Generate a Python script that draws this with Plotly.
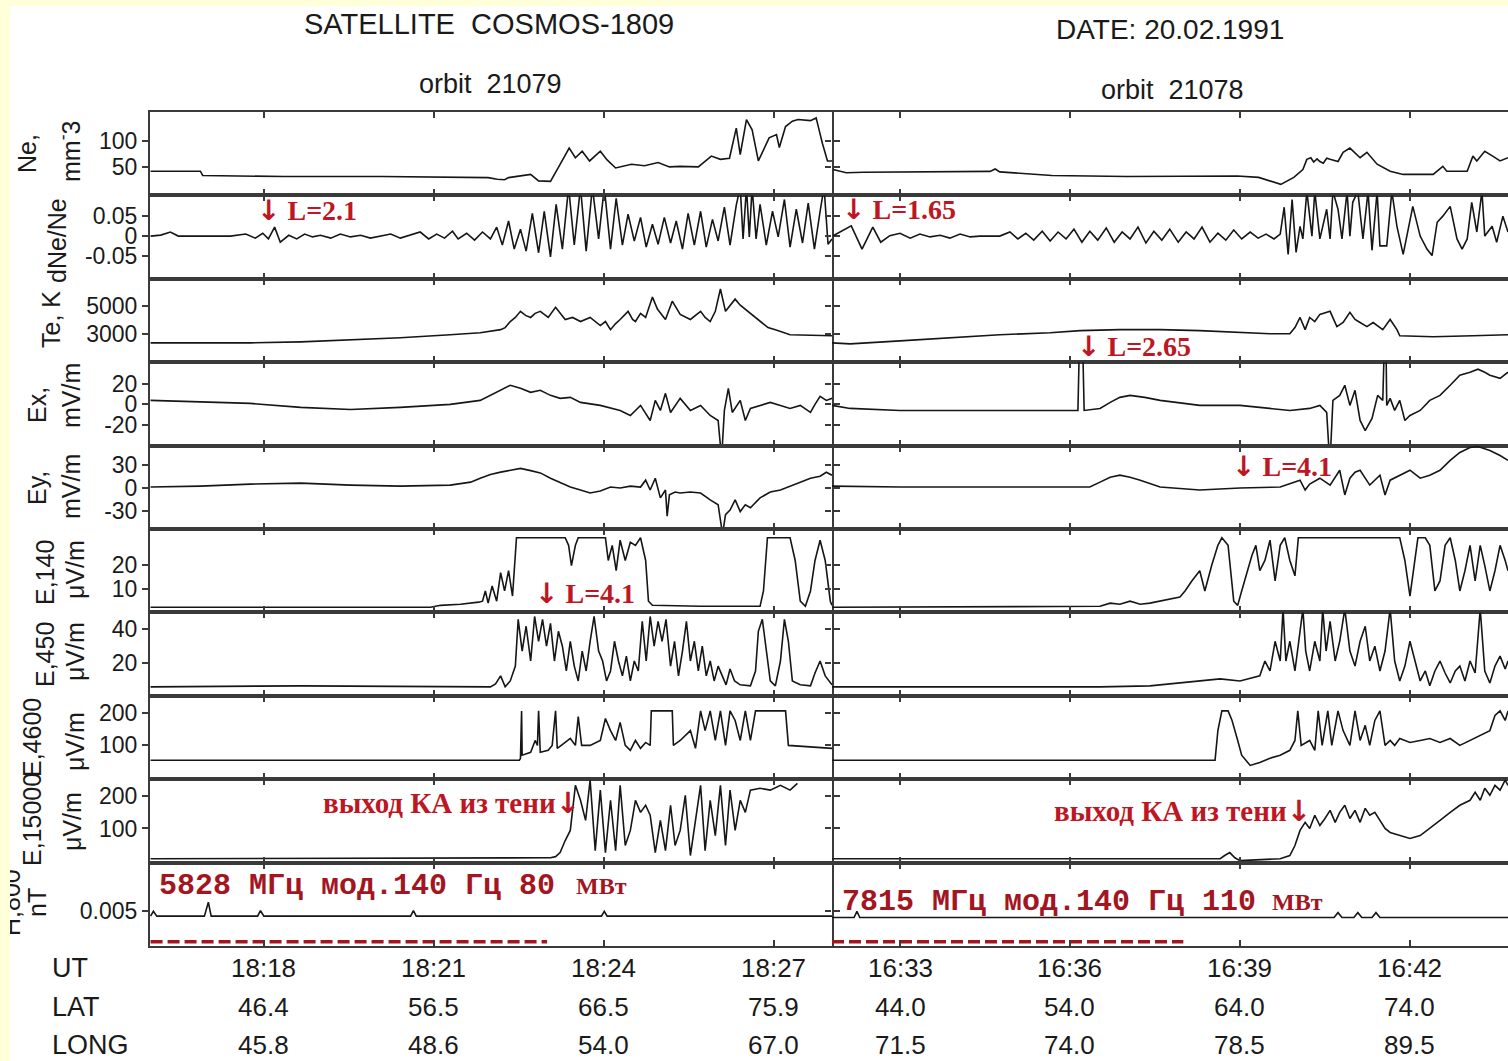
import plotly.graph_objects as go
from plotly.subplots import make_subplots

# ---------------- time axes (minutes past the hour) ----------------
left_range = [15.99, 28.03]      # 18:16 .. 18:28, orbit 21079
right_range = [31.8, 43.73]      # 16:31.8 .. 16:43.7, orbit 21078
ticks_left = [18, 21, 24, 27]
ticks_right = [33, 36, 39, 42]

ut_left = ["18:18", "18:21", "18:24", "18:27"]
lat_left = ["46.4", "56.5", "66.5", "75.9"]
long_left = ["45.8", "48.6", "54.0", "67.0"]
ut_right = ["16:33", "16:36", "16:39", "16:42"]
lat_right = ["44.0", "54.0", "64.0", "74.0"]
long_right = ["71.5", "74.0", "78.5", "89.5"]

# heater-on intervals (red dashed bars)
heater_left = [16.0, 23.0]
heater_right = [31.8, 38.0]

# ---------------- measured series: (minute, value) ----------------
ne_l = [(16.00, 43), (16.88, 43), (16.92, 35), (17.5, 34), (18.35, 33), (20.08, 33), (20.71, 32),
        (21.96, 31), (22.12, 28), (22.25, 27), (22.32, 31), (22.55, 35), (22.71, 37), (22.85, 25),
        (23.06, 24), (23.20, 50), (23.39, 86), (23.50, 68), (23.62, 80), (23.75, 62), (23.94, 80),
        (24.06, 64), (24.21, 49), (24.49, 56), (24.72, 53), (24.96, 59), (25.16, 51), (25.35, 52),
        (25.67, 51), (25.90, 71), (26.06, 65), (26.22, 67), (26.34, 123), (26.41, 74), (26.52, 139),
        (26.62, 120), (26.73, 62), (26.92, 105), (27.05, 111), (27.10, 87), (27.21, 126), (27.33, 136),
        (27.43, 139), (27.65, 137), (27.75, 142), (27.86, 95), (27.95, 62), (28.03, 62)]
ne_r = [(31.82, 46), (32.05, 40), (32.36, 41), (34.59, 42.6), (34.68, 47), (34.76, 41.7), (35.68, 35),
        (37.0, 33), (38.95, 34), (39.33, 31.5), (39.72, 18.5), (39.95, 31.5), (40.11, 46), (40.18, 65),
        (40.25, 68), (40.30, 60), (40.36, 66), (40.41, 61), (40.47, 58), (40.53, 67), (40.59, 65),
        (40.73, 61), (40.82, 78), (40.94, 86), (41.12, 68), (41.24, 78), (41.42, 56), (41.65, 43),
        (41.88, 37), (42.41, 37), (42.58, 52), (42.65, 43), (43.01, 43), (43.11, 71), (43.18, 62),
        (43.32, 80), (43.46, 71), (43.59, 62), (43.73, 68)]

dne_l = [(16.00, 0), (16.18, 0.0024), (16.35, 0.0098), (16.49, 0), (17.41, 0), (17.68, 0.005),
         (17.85, -0.005), (17.98, 0.007), (18.08, -0.007), (18.19, 0.022), (18.29, -0.015),
         (18.44, 0.002), (18.58, -0.007), (18.72, 0.005), (18.86, -0.002), (19.00, 0.002),
         (19.18, -0.005), (19.35, 0.005), (19.53, -0.002), (19.71, 0.002), (19.88, -0.005),
         (20.06, 0), (20.24, 0.005), (20.41, -0.005), (20.59, 0.002), (20.76, 0.01), (20.91, -0.007),
         (21.05, 0.005), (21.19, -0.005), (21.33, 0.012), (21.43, -0.007), (21.58, 0.007),
         (21.72, -0.01), (21.86, 0.01), (22.00, -0.007), (22.11, 0.022), (22.21, -0.022),
         (22.32, 0.037), (22.42, -0.032), (22.53, 0.017), (22.63, -0.037), (22.74, 0.056),
         (22.85, -0.041), (22.95, 0.061), (23.06, -0.051), (23.16, 0.078), (23.27, -0.032),
         (23.38, 0.12), (23.48, -0.022), (23.59, 0.12), (23.69, -0.037), (23.80, 0.12),
         (23.91, -0.007), (24.01, 0.12), (24.12, -0.032), (24.22, 0.093), (24.33, -0.022),
         (24.43, 0.054), (24.54, -0.012), (24.65, 0.046), (24.75, -0.027), (24.86, 0.029),
         (24.96, -0.02), (25.07, 0.046), (25.18, -0.017), (25.28, 0.037), (25.39, -0.032),
         (25.49, 0.056), (25.60, -0.022), (25.71, 0.061), (25.81, -0.027), (25.92, 0.041),
         (26.02, -0.012), (26.13, 0.071), (26.23, -0.022), (26.34, 0.076), (26.41, 0.12),
         (26.46, -0.007), (26.52, 0.12), (26.57, -0.002), (26.62, 0.12), (26.69, -0.007),
         (26.76, 0.078), (26.87, -0.022), (26.98, 0.061), (27.08, -0.002), (27.19, 0.09),
         (27.29, -0.027), (27.40, 0.066), (27.51, -0.017), (27.61, 0.081), (27.72, -0.032),
         (27.82, 0.061), (27.89, 0.12), (27.96, -0.02), (28.03, -0.007)]
dne_r = [(31.82, 0.001), (32.14, 0.025), (32.33, -0.032), (32.52, 0.022), (32.66, -0.015),
         (32.82, 0.001), (33.00, 0.007), (33.18, -0.005), (33.35, 0.005), (33.53, -0.002),
         (33.71, 0.002), (33.88, -0.005), (34.06, 0.005), (34.24, -0.002), (34.41, 0), (34.76, 0),
         (34.94, 0.01), (35.08, -0.007), (35.22, 0.007), (35.36, -0.01), (35.51, 0.012),
         (35.65, -0.012), (35.79, 0.01), (35.93, -0.007), (36.07, 0.017), (36.21, -0.015),
         (36.35, 0.012), (36.49, -0.01), (36.64, 0.02), (36.78, -0.015), (36.92, 0.01),
         (37.06, -0.007), (37.20, 0.022), (37.34, -0.017), (37.48, 0.012), (37.62, -0.01),
         (37.76, 0.017), (37.91, -0.015), (38.05, 0.01), (38.19, -0.007), (38.33, 0.022),
         (38.47, -0.015), (38.61, 0.007), (38.75, -0.01), (38.89, 0.015), (39.03, -0.007),
         (39.18, 0.01), (39.32, -0.005), (39.46, 0.005), (39.60, -0.007), (39.71, 0.005),
         (39.78, 0.071), (39.85, -0.045), (39.92, 0.09), (39.99, -0.04), (40.06, 0.024),
         (40.11, -0.007), (40.18, 0.11), (40.27, 0), (40.32, 0.11), (40.41, -0.007), (40.53, 0.066),
         (40.59, -0.007), (40.64, 0.11), (40.73, 0.066), (40.80, -0.007), (40.89, 0.11), (40.94, 0),
         (40.99, 0.083), (41.08, 0.11), (41.17, -0.007), (41.26, 0.11), (41.33, -0.035),
         (41.42, 0.11), (41.47, -0.024), (41.59, -0.024), (41.68, 0.11), (41.77, 0.024),
         (41.88, -0.045), (42.05, 0.073), (42.18, 0), (42.30, -0.032), (42.39, -0.048),
         (42.48, 0.034), (42.58, 0.049), (42.71, 0.073), (42.83, -0.007), (42.92, -0.032),
         (43.01, -0.007), (43.09, 0.083), (43.18, 0.01), (43.27, 0.11), (43.32, 0), (43.45, 0.024),
         (43.53, -0.015), (43.64, 0.049), (43.73, 0.01)]

te_l = [(16.00, 2333), (17.76, 2333), (18.65, 2407), (19.53, 2556), (20.41, 2704), (21.29, 2926),
        (21.82, 3074), (22.18, 3296), (22.26, 3444), (22.35, 3889), (22.44, 4185), (22.53, 4630),
        (22.62, 4333), (22.71, 4185), (22.79, 4481), (22.88, 4630), (23.02, 4185), (23.15, 4926),
        (23.23, 4481), (23.32, 4037), (23.45, 4185), (23.59, 3889), (23.76, 4185), (23.94, 3593),
        (24.03, 3889), (24.12, 3296), (24.21, 3741), (24.29, 4037), (24.43, 4630), (24.51, 4037),
        (24.56, 3889), (24.65, 4481), (24.74, 4185), (24.86, 5667), (24.95, 4778), (25.09, 4037),
        (25.21, 5370), (25.35, 4407), (25.53, 4037), (25.71, 4630), (25.79, 4185), (25.88, 3889),
        (25.97, 4630), (26.06, 6259), (26.15, 4630), (26.23, 5074), (26.32, 5519), (26.41, 5074),
        (26.50, 4778), (26.62, 4333), (26.76, 3889), (26.90, 3444), (27.03, 3296), (27.29, 2926),
        (28.03, 2852)]
te_r = [(31.80, 2333), (32.12, 2259), (33.00, 2481), (33.88, 2704), (34.76, 2926), (35.65, 3074),
        (36.18, 3222), (36.88, 3296), (37.59, 3296), (38.29, 3222), (39.00, 3074), (39.53, 3000),
        (39.88, 3000), (39.97, 3444), (40.06, 4185), (40.15, 3296), (40.23, 4185), (40.32, 3889),
        (40.41, 4407), (40.59, 4630), (40.71, 3519), (40.82, 3815), (40.94, 4556), (41.03, 4037),
        (41.12, 3815), (41.24, 3519), (41.35, 3815), (41.52, 3296), (41.65, 4037), (41.77, 3296),
        (41.82, 2852), (42.41, 2778), (43.11, 2852), (43.73, 2926)]

ex_l = [(16.00, 4), (17.76, 1), (18.65, -3), (19.53, -5), (20.41, -3), (21.29, 0), (21.82, 4),
        (22.00, 9), (22.18, 14), (22.35, 19), (22.53, 16), (22.71, 12), (22.88, 14), (23.06, 9),
        (23.23, 6), (23.41, 7), (23.59, 2), (23.94, -1), (24.29, -6), (24.47, -11), (24.65, -1),
        (24.82, -16), (24.91, 4), (25.00, -6), (25.09, 11), (25.18, -8), (25.35, 6), (25.53, -6),
        (25.71, -1), (25.88, -11), (26.02, -16), (26.06, -41), (26.09, -45), (26.13, -6),
        (26.20, 16), (26.27, -8), (26.41, 4), (26.50, -16), (26.59, -4), (26.76, -1), (26.94, 2),
        (27.12, -1), (27.29, -4), (27.47, -1), (27.65, -8), (27.73, 0), (27.82, 8), (27.93, 4),
        (28.03, 6)]
ex_r = [(31.80, -1), (32.12, -4), (33.00, -6), (34.76, -6), (36.14, -6), (36.16, 45), (36.23, 45),
        (36.25, -6), (36.53, -4), (36.71, 2), (36.88, 7), (37.06, 9), (37.32, 7), (37.59, 4),
        (38.29, -1), (39.00, -1), (39.53, -4), (39.88, -6), (40.23, -4), (40.41, -1), (40.53, -8),
        (40.57, -45), (40.60, -45), (40.64, 4), (40.76, 9), (40.85, 19), (40.94, -1), (41.03, 14),
        (41.12, -16), (41.21, -26), (41.33, -14), (41.43, 9), (41.52, 4), (41.54, 45), (41.58, 45),
        (41.59, -1), (41.65, 6), (41.73, -6), (41.82, 4), (41.91, -16), (42.00, -11), (42.18, -6),
        (42.35, 4), (42.53, 9), (42.71, 19), (42.88, 29), (43.06, 32), (43.20, 35), (43.32, 32),
        (43.41, 29), (43.59, 26), (43.73, 32)]

ey_l = [(16.00, 1.3), (16.88, 2.6), (17.76, 5.2), (18.65, 6.5), (19.53, 3.9), (20.41, 2.6),
        (21.29, 3.9), (21.65, 7.8), (21.82, 13), (22.00, 18), (22.18, 21), (22.35, 23), (22.53, 26),
        (22.71, 23), (22.88, 20), (23.06, 13), (23.23, 7.8), (23.41, 1.3), (23.59, -2.6),
        (23.76, -6.5), (23.94, -3.9), (24.12, 1.3), (24.29, 0), (24.47, 2.6), (24.65, 1.3),
        (24.74, 10.4), (24.82, -2.6), (24.91, 13), (25.00, -13), (25.09, -2.6), (25.12, -37),
        (25.16, -9), (25.26, -5.2), (25.35, -6.5), (25.53, -5.2), (25.71, -6.5), (25.88, -15.6),
        (26.02, -22), (26.08, -52), (26.11, -55), (26.15, -35), (26.23, -29), (26.32, -15.6),
        (26.41, -31), (26.50, -22), (26.59, -26), (26.76, -13), (26.94, -5.2), (27.12, -2.6),
        (27.29, 2.6), (27.47, 7.8), (27.65, 13), (27.82, 15.6), (27.93, 20.9), (28.03, 16.9)]
ey_r = [(31.80, 2.6), (33.00, 1.3), (34.76, 1.3), (36.35, 1.3), (36.53, 7.8), (36.71, 14.3),
        (36.88, 17), (37.06, 14.3), (37.24, 10.4), (37.59, 1.3), (38.29, -2.6), (39.00, 0),
        (39.71, 1.3), (40.06, 10.4), (40.15, -2.6), (40.23, 5.2), (40.41, 13), (40.59, 3.9),
        (40.76, 23.5), (40.85, -9.1), (40.94, 13), (41.03, 20.9), (41.12, 23.5), (41.29, 3.9),
        (41.47, 17), (41.56, -9.1), (41.65, 10.4), (41.82, 17), (42.00, 23.5), (42.18, 13),
        (42.35, 17), (42.53, 23.5), (42.71, 36.5), (42.88, 47), (43.06, 53.5), (43.20, 54.8),
        (43.32, 52), (43.41, 49.6), (43.59, 43), (43.73, 36.5)]

e140_l = [(16.00, 2.5), (20.94, 2.5), (21.12, 3.3), (21.47, 3.75), (21.79, 4.6), (21.86, 5),
          (21.91, 9.2), (21.96, 4.2), (22.03, 11.25), (22.11, 5), (22.18, 16.7), (22.25, 9.2),
          (22.32, 17.5), (22.39, 7.1), (22.46, 31), (23.32, 31), (23.38, 27.9), (23.43, 19.6),
          (23.50, 27.9), (23.55, 31), (24.03, 31), (24.08, 21.7), (24.15, 27.9), (24.22, 17.5),
          (24.29, 30), (24.38, 21.7), (24.47, 29.2), (24.56, 27.9), (24.65, 31), (24.74, 21.7),
          (24.79, 5), (24.86, 3.3), (25.71, 2.9), (26.76, 2.9), (26.82, 9.2), (26.89, 31),
          (27.29, 31), (27.38, 21.7), (27.47, 5), (27.56, 2.9), (27.65, 9.2), (27.73, 21.7),
          (27.82, 30), (27.91, 21.7), (28.00, 5), (28.03, 3.3)]
e140_r = [(31.80, 2.5), (36.53, 2.9), (36.71, 4.2), (36.88, 3.75), (37.06, 5), (37.24, 3.75),
          (37.41, 4.2), (37.59, 5), (37.76, 5.8), (37.94, 6.7), (38.03, 9.2), (38.15, 13.3),
          (38.29, 17.5), (38.38, 9.2), (38.50, 19.6), (38.61, 27.9), (38.68, 31), (38.79, 27.9),
          (38.89, 5), (38.96, 3.3), (39.03, 9.2), (39.14, 17.5), (39.21, 23.75), (39.28, 27.9),
          (39.35, 17.5), (39.44, 21.7), (39.53, 30), (39.62, 13.3), (39.71, 27.9), (39.79, 31),
          (39.88, 21.7), (39.97, 15.4), (40.03, 31), (41.82, 31), (41.91, 21.7), (42.00, 7.1),
          (42.09, 21.7), (42.14, 31), (42.27, 31), (42.35, 27.9), (42.44, 9.2), (42.53, 13.3),
          (42.62, 27.9), (42.71, 31), (42.80, 21.7), (42.88, 9.2), (42.97, 17.5), (43.06, 27.9),
          (43.15, 13.3), (43.24, 27.9), (43.32, 19.6), (43.41, 9.2), (43.50, 17.5), (43.59, 27.9),
          (43.68, 21.7), (43.73, 17.5)]

e450_l = [(16.00, 5.9), (18.65, 6.5), (22.00, 5.9), (22.09, 7.6), (22.18, 12.4), (22.26, 5.9),
          (22.35, 9.4), (22.44, 18.2), (22.49, 45.9), (22.56, 27.1), (22.63, 41.8), (22.71, 21.2),
          (22.78, 47.6), (22.85, 32.9), (22.92, 45.9), (22.99, 30), (23.06, 43.5), (23.13, 21.2),
          (23.20, 38.8), (23.27, 30), (23.34, 15.3), (23.41, 32.9), (23.48, 18.2), (23.55, 9.4),
          (23.62, 27.1), (23.69, 15.3), (23.76, 32.9), (23.83, 47.6), (23.91, 27.1), (23.98, 21.2),
          (24.05, 9.4), (24.12, 15.3), (24.19, 32.9), (24.26, 21.2), (24.33, 12.4), (24.40, 24.1),
          (24.47, 9.4), (24.54, 21.2), (24.61, 15.3), (24.68, 44.7), (24.75, 21.2), (24.82, 47.6),
          (24.89, 30), (24.96, 44.7), (25.03, 32.9), (25.10, 45.9), (25.18, 18.2), (25.25, 32.9),
          (25.32, 12.4), (25.39, 27.1), (25.46, 44.7), (25.53, 21.2), (25.60, 32.9), (25.67, 15.3),
          (25.74, 30), (25.81, 12.4), (25.88, 21.2), (25.95, 9.4), (26.02, 18.2), (26.09, 12.4),
          (26.16, 7.1), (26.23, 16.5), (26.31, 9.4), (26.41, 7.1), (26.59, 6.5), (26.68, 15.3),
          (26.73, 38.8), (26.80, 45.9), (26.87, 27.1), (26.94, 9.4), (27.03, 6.5), (27.12, 21.2),
          (27.19, 45.9), (27.26, 32.9), (27.33, 9.4), (27.47, 7.1), (27.65, 6.5), (27.73, 14.1),
          (27.82, 21.2), (27.91, 12.4), (28.03, 7.1)]
e450_r = [(31.80, 5.9), (36.53, 5.9), (37.41, 6.5), (37.94, 8.2), (38.29, 9.4), (38.65, 10.6),
          (39.00, 9.4), (39.35, 12.4), (39.44, 21.2), (39.53, 15.3), (39.62, 32.9), (39.71, 21.2),
          (39.76, 52), (39.81, 21.2), (39.88, 32.9), (39.97, 15.3), (40.06, 38.8), (40.11, 52),
          (40.16, 27.1), (40.23, 15.3), (40.32, 32.9), (40.41, 21.2), (40.46, 52), (40.52, 27.1),
          (40.59, 44.7), (40.68, 21.2), (40.76, 32.9), (40.85, 52), (40.94, 27.1), (41.03, 18.2),
          (41.12, 32.9), (41.21, 41.8), (41.29, 21.2), (41.38, 30), (41.47, 15.3), (41.56, 27.1),
          (41.65, 52), (41.73, 21.2), (41.82, 9.4), (41.91, 18.2), (42.00, 32.9), (42.09, 21.2),
          (42.18, 9.4), (42.27, 15.3), (42.35, 6.5), (42.44, 15.3), (42.53, 21.2), (42.62, 14.1),
          (42.71, 8.2), (42.80, 15.3), (42.88, 18.2), (42.97, 9.4), (43.06, 21.2), (43.15, 14.1),
          (43.24, 52), (43.32, 15.3), (43.41, 8.2), (43.50, 18.2), (43.59, 24.1), (43.68, 16.5),
          (43.73, 21.2)]

e4600_l = [(16.00, 54.5), (22.51, 54.5), (22.53, 60), (22.55, 205), (22.56, 70), (22.71, 79),
           (22.79, 115), (22.83, 100), (22.85, 205), (22.88, 79), (23.02, 85), (23.09, 100),
           (23.15, 205), (23.18, 91), (23.32, 109), (23.41, 121), (23.50, 100), (23.55, 188),
           (23.61, 100), (23.76, 100), (23.94, 115), (24.03, 182), (24.12, 145), (24.21, 115),
           (24.29, 170), (24.38, 100), (24.47, 85), (24.56, 115), (24.65, 91), (24.74, 109),
           (24.82, 100), (24.84, 205), (25.21, 205), (25.23, 100), (25.35, 115), (25.53, 145),
           (25.62, 91), (25.71, 205), (25.79, 145), (25.88, 205), (25.97, 115), (26.06, 205),
           (26.15, 100), (26.23, 205), (26.32, 176), (26.41, 115), (26.50, 205), (26.59, 115),
           (26.68, 205), (27.21, 205), (27.26, 100), (28.03, 91)]
e4600_r = [(31.80, 54.5), (38.56, 54.5), (38.61, 145), (38.68, 205), (38.79, 205), (38.86, 176),
           (38.96, 115), (39.03, 70), (39.18, 39), (39.35, 48), (39.53, 61), (39.71, 70),
           (39.88, 85), (39.97, 115), (40.02, 205), (40.08, 100), (40.23, 115), (40.32, 85),
           (40.38, 205), (40.45, 100), (40.55, 205), (40.62, 100), (40.73, 205), (40.82, 145),
           (40.94, 100), (41.03, 205), (41.12, 115), (41.21, 161), (41.29, 100), (41.38, 176),
           (41.47, 205), (41.56, 100), (41.65, 115), (41.73, 100), (41.82, 121), (42.00, 109),
           (42.18, 115), (42.35, 121), (42.53, 109), (42.71, 121), (42.88, 100), (43.06, 115),
           (43.24, 130), (43.41, 145), (43.50, 191), (43.59, 205), (43.68, 176), (43.73, 205)]

e15000_l = [(16.00, 6), (23.06, 9), (23.15, 12.5), (23.23, 25), (23.32, 62.5), (23.41, 94),
            (23.50, 234), (23.59, 187.5), (23.68, 125), (23.76, 250), (23.85, 31), (23.94, 219),
            (24.03, 25), (24.12, 187.5), (24.21, 31), (24.29, 234), (24.38, 47), (24.47, 94),
            (24.56, 187.5), (24.65, 150), (24.74, 172), (24.82, 141), (24.91, 25), (25.00, 125),
            (25.09, 31), (25.18, 172), (25.26, 47), (25.35, 94), (25.44, 203), (25.53, 16),
            (25.62, 125), (25.71, 234), (25.79, 31), (25.88, 187.5), (25.97, 78), (26.06, 234),
            (26.15, 47), (26.23, 219), (26.32, 94), (26.41, 187.5), (26.50, 150), (26.59, 219),
            (26.76, 225), (26.94, 219), (27.12, 234), (27.29, 219), (27.42, 240)]
e15000_r = [(31.80, 6), (38.65, 6), (38.73, 16), (38.82, 25), (38.91, 9), (39.00, 0), (39.71, 6),
            (39.88, 16), (39.97, 47), (40.06, 94), (40.15, 119), (40.23, 100), (40.32, 141),
            (40.41, 109), (40.50, 131), (40.59, 156), (40.68, 119), (40.76, 150), (40.85, 172),
            (40.94, 131), (41.03, 156), (41.12, 119), (41.21, 162.5), (41.29, 141), (41.38, 150),
            (41.47, 125), (41.56, 100), (41.65, 87.5), (41.82, 78), (42.00, 69), (42.18, 78),
            (42.35, 100), (42.53, 125), (42.71, 150), (42.88, 172), (43.06, 187.5), (43.15, 212.5),
            (43.24, 187.5), (43.32, 225), (43.41, 203), (43.50, 234), (43.59, 219), (43.68, 250),
            (43.73, 234)]

h_l = [(16.00, 0.0043), (16.05, 0.0050), (16.11, 0.0043), (16.95, 0.0043), (17.02, 0.0063),
       (17.07, 0.0043), (17.89, 0.0043), (17.94, 0.0051), (18.00, 0.0043), (20.59, 0.0043),
       (20.64, 0.0051), (20.69, 0.0043), (23.96, 0.0043), (24.01, 0.0050), (24.06, 0.0043),
       (28.03, 0.0043)]
h_r = [(31.80, 0.0041), (32.19, 0.0041), (32.24, 0.0050), (32.29, 0.0041), (40.66, 0.0041),
       (40.73, 0.0048), (40.80, 0.0041), (41.01, 0.0041), (41.08, 0.0048), (41.15, 0.0041),
       (41.33, 0.0041), (41.40, 0.0048), (41.47, 0.0041), (43.73, 0.0041)]

panels = [
    dict(rng=[-2, 153], tv=[50, 100], tt=["50", "100"], l=ne_l, r=ne_r),
    dict(rng=[-0.105, 0.1], tv=[-0.05, 0, 0.05], tt=["-0.05", "0", "0.05"], l=dne_l, r=dne_r),
    dict(rng=[925, 7000], tv=[3000, 5000], tt=["3000", "5000"], l=te_l, r=te_r),
    dict(rng=[-41, 42], tv=[-20, 0, 20], tt=["-20", "0", "20"], l=ex_l, r=ex_r),
    dict(rng=[-54, 56], tv=[-30, 0, 30], tt=["-30", "0", "30"], l=ey_l, r=ey_r),
    dict(rng=[0.4, 34.6], tv=[10, 20], tt=["10", "20"], l=e140_l, r=e140_r),
    dict(rng=[0.6, 50], tv=[20, 40], tt=["20", "40"], l=e450_l, r=e450_r),
    dict(rng=[-3, 251], tv=[100, 200], tt=["100", "200"], l=e4600_l, r=e4600_r),
    dict(rng=[-6, 253], tv=[100, 200], tt=["100", "200"], l=e15000_l, r=e15000_r),
    dict(rng=[0, 0.012], tv=[0.005], tt=["0.005"], l=h_l, r=h_r),
]

# ---------------- geometry ----------------
W, H = 1508, 1061
ML, MR, MT, MB = 150, 0, 112, 115
PW, PH = W - ML - MR, H - MT - MB


def px(x):
    return (x - ML) / PW


def py(y):
    return (H - MB - y) / PH


INK = "#161616"
FRAME = "#3a3a3a"
RED = "#BE1622"
DARKRED = "#A3161F"
BG_YELLOW = "#FFFFDA"
SANS = "Liberation Sans, Arial, sans-serif"
SERIF = "Liberation Serif, Times New Roman, serif"
MONO = "Liberation Mono, Courier New, monospace"
ARROW = '<span style="font-family:DejaVu Sans">↓</span>'

fig = make_subplots(rows=10, cols=2, vertical_spacing=0, horizontal_spacing=0,
                    column_widths=[682, 676])

for r, p in enumerate(panels, start=1):
    for c, series in ((1, p["l"]), (2, p["r"])):
        t, v = zip(*series)
        fig.add_trace(go.Scatter(x=list(t), y=list(v), mode="lines",
                                 line=dict(color=INK, width=1.6),
                                 hoverinfo="skip", showlegend=False), row=r, col=c)
        fig.update_xaxes(range=left_range if c == 1 else right_range,
                         tickvals=ticks_left if c == 1 else ticks_right,
                         showticklabels=False, ticks="inside", ticklen=6, tickwidth=1.5,
                         tickcolor=FRAME, showline=True, linecolor=FRAME, linewidth=2,
                         mirror="ticks", showgrid=False, zeroline=False, row=r, col=c)
        fig.update_yaxes(range=p["rng"], tickvals=p["tv"], ticktext=p["tt"],
                         showticklabels=(c == 1), ticks="outside", ticklen=6, tickwidth=1.5,
                         tickcolor=FRAME, showline=(c == 1), linecolor=FRAME, linewidth=2,
                         mirror="ticks" if c == 1 else False, showgrid=False, zeroline=False,
                         tickfont=dict(family=SANS, size=23, color="#1a1a1a"),
                         row=r, col=c)

# heater-on bars along the bottom of the last row
for c, span in ((1, heater_left), (2, heater_right)):
    fig.add_trace(go.Scatter(x=span, y=[0.0006, 0.0006], mode="lines",
                             line=dict(color=DARKRED, width=3.5, dash="12px,5px"),
                             hoverinfo="skip", showlegend=False), row=10, col=c)


def axref(r, c):
    i = (r - 1) * 2 + c
    return ("x" if i == 1 else f"x{i}"), ("y" if i == 1 else f"y{i}")


ann = []


def paper_text(text, x, y, size, anchor="center", angle=0, family=SANS, color="#1a1a1a"):
    ann.append(dict(text=text, x=px(x), y=py(y), xref="paper", yref="paper",
                    xanchor=anchor, yanchor="middle", showarrow=False, textangle=angle,
                    font=dict(family=family, size=size, color=color)))


NB = "\u00a0"
paper_text("SATELLITE" + NB * 2 + "COSMOS-1809", 489, 24, 29)
paper_text("orbit" + NB * 2 + "21079", 490, 84, 27)
paper_text("DATE: 20.02.1991", 1170, 30, 28)
paper_text("orbit" + NB * 2 + "21078", 1172, 90, 27)

# rotated channel labels
for text, x, y in [("Ne,", 27, 154), ("mm<sup>-</sup>3", 69, 152), ("dNe/Ne", 57, 240),
                   ("Te, K", 51, 320), ("Ex,", 37, 405), ("mV/m", 71, 396),
                   ("Ey,", 37, 488), ("mV/m", 71, 487), ("E,140", 45, 573), ("μV/m", 75, 570),
                   ("E,450", 45, 655), ("μV/m", 75, 652), ("E,4600", 32, 738), ("μV/m", 75, 742),
                   ("E,15000", 32, 820), ("μV/m", 72, 822), ("H,800", 11, 903), ("nT", 37, 903)]:
    paper_text(text, x, y, 25, angle=-90)

# frame strip over the clipped first line of the last label
ann.append(dict(text=NB, x=px(0), y=py(903), xref="paper", yref="paper", xanchor="left",
                yanchor="middle", showarrow=False, width=10, height=84, bgcolor=BG_YELLOW,
                borderpad=0, borderwidth=0, font=dict(size=10)))


def data_text(text, r, c, x, y, size, anchor="left", family=SERIF, color=RED):
    xr, yr = axref(r, c)
    ann.append(dict(text=text, x=x, y=y, xref=xr, yref=yr, xanchor=anchor, yanchor="middle",
                    showarrow=False, font=dict(family=family, size=size, color=color)))


data_text("<b>" + ARROW + " L=2.1</b>", 2, 1, 17.85, 0.063, 28)
data_text("<b>" + ARROW + " L=1.65</b>", 2, 2, 31.94, 0.066, 28)
data_text("<b>" + ARROW + " L=2.65</b>", 3, 2, 36.09, 2037, 28)
data_text("<b>" + ARROW + " L=4.1</b>", 5, 2, 38.82, 28.7, 28)
data_text("<b>" + ARROW + " L=4.1</b>", 6, 1, 22.76, 8.3, 28)
data_text("<b>выход КА из тени" + ARROW + "</b>", 9, 1, 23.62, 178, 29, anchor="right")
data_text("<b>выход КА из тени" + ARROW + "</b>", 9, 2, 40.29, 153, 29, anchor="right")
data_text("<b>5828" + NB + "МГц" + NB + "мод.140" + NB + "Гц" + NB + "80</b>",
          10, 1, 16.12, 0.0086, 30, family=MONO, color=DARKRED)
data_text("<b>МВт</b>", 10, 1, 23.47, 0.0086, 24, color=DARKRED)
data_text("<b>7815" + NB + "МГц" + NB + "мод.140" + NB + "Гц" + NB + "110</b>",
          10, 2, 31.94, 0.0064, 30, family=MONO, color=DARKRED)
data_text("<b>МВт</b>", 10, 2, 39.53, 0.0064, 24, color=DARKRED)

# UT / LAT / LONG table under the time axis
for label, y in (("UT", 968), ("LAT", 1007), ("LONG", 1045)):
    paper_text(label, 50, y, 27, anchor="left")
for c, ticks, rows in ((1, ticks_left, (ut_left, lat_left, long_left)),
                       (2, ticks_right, (ut_right, lat_right, long_right))):
    xr, _ = axref(10, c)
    for vals, y in zip(rows, (968, 1007, 1045)):
        for t, s in zip(ticks, vals):
            ann.append(dict(text=s, x=t, y=py(y), xref=xr, yref="paper", xanchor="center",
                            yanchor="middle", showarrow=False,
                            font=dict(family=SANS, size=26, color="#1a1a1a")))

fig.update_layout(
    width=W, height=H, margin=dict(l=ML, r=MR, t=MT, b=MB, pad=0),
    paper_bgcolor=BG_YELLOW, plot_bgcolor="white",
    font=dict(family=SANS, color="#1a1a1a"),
    annotations=ann,
    shapes=[dict(type="rect", xref="paper", yref="paper", x0=px(10), x1=px(W + 5),
                 y0=py(H + 5), y1=py(6), fillcolor="white", line=dict(width=0), layer="below")],
    showlegend=False,
)

fig.write_html("out.html")
